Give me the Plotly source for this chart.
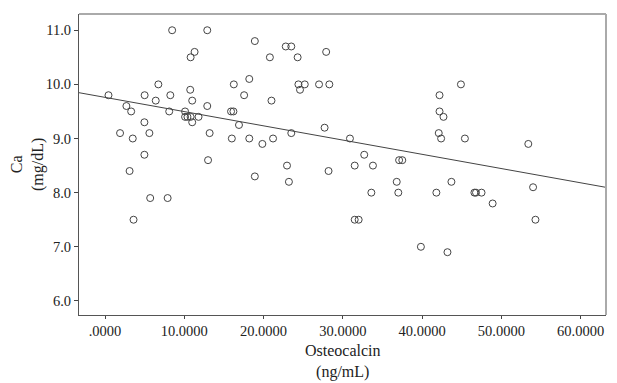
import plotly.graph_objects as go
import numpy as np

osteocalcin = [8.47, 12.9, 18.9, 11.3, 10.8, 6.73, 16.25, 18.2, 0.44, 5.0, 8.24, 10.75, 17.55,
               6.4, 11.0, 2.7, 3.3, 8.1, 10.1, 12.9, 15.9, 16.2, 10.1, 10.4, 10.8, 11.8, 11.0,
               4.97, 16.9, 1.9, 3.5, 5.6, 13.2, 16.0, 18.2, 4.97, 13.0, 3.1, 18.9, 5.7, 7.9, 3.6,
               22.8, 23.5, 20.8, 24.3, 27.9, 24.4, 25.2, 24.6, 27.0, 28.3, 21.0, 27.7, 23.5,
               19.85, 21.2, 30.9, 32.7, 37.1, 37.5, 22.96, 31.5, 33.8, 28.2, 23.2, 36.8, 33.6,
               37.0, 31.5, 32.0, 39.85, 44.9, 42.2, 42.2, 42.7, 42.1, 42.4, 45.4, 53.4, 43.7,
               41.8, 46.6, 46.8, 47.5, 48.9, 54.0, 54.3, 43.2]
ca = [11.0, 11.0, 10.8, 10.6, 10.5, 10.0, 10.0, 10.1, 9.8, 9.8, 9.8, 9.9, 9.8,
      9.7, 9.7, 9.6, 9.5, 9.5, 9.5, 9.6, 9.5, 9.5, 9.4, 9.4, 9.4, 9.4, 9.3,
      9.3, 9.25, 9.1, 9.0, 9.1, 9.1, 9.0, 9.0, 8.7, 8.6, 8.4, 8.3, 7.9, 7.9, 7.5,
      10.7, 10.7, 10.5, 10.5, 10.6, 10.0, 10.0, 9.9, 10.0, 10.0, 9.7, 9.2, 9.1,
      8.9, 9.0, 9.0, 8.7, 8.6, 8.6, 8.5, 8.5, 8.5, 8.4, 8.2, 8.2, 8.0,
      8.0, 7.5, 7.5, 7.0, 10.0, 9.8, 9.5, 9.4, 9.1, 9.0, 9.0, 8.9, 8.2,
      8.0, 8.0, 8.0, 8.0, 7.8, 8.1, 7.5, 6.9]

fit_intercept = 9.76
fit_slope = -0.0263

x_ticks = [0, 10, 20, 30, 40, 50, 60]
x_ticktext = [".0000", "10.0000", "20.0000", "30.0000", "40.0000", "50.0000", "60.0000"]
y_ticks = [6, 7, 8, 9, 10, 11]
y_ticktext = ["6.0", "7.0", "8.0", "9.0", "10.0", "11.0"]

x_range = [-3.28, 63.2]
y_range = [5.74, 11.30]

fig = go.Figure()
fig.add_trace(go.Scatter(
    x=osteocalcin, y=ca, mode="markers",
    marker=dict(symbol="circle-open", size=7, color="#444444", line=dict(width=1, color="#444444")),
    showlegend=False, cliponaxis=False))
lx = np.array(x_range)
fig.add_trace(go.Scatter(
    x=lx, y=fit_intercept + fit_slope * lx, mode="lines",
    line=dict(color="#444444", width=1), showlegend=False))

font = "Liberation Serif"
fig.update_layout(
    width=617, height=383,
    margin=dict(l=79, r=11, t=14, b=68),
    plot_bgcolor="white", paper_bgcolor="white",
    font=dict(family=font, color="#222222", size=14),
    xaxis=dict(range=x_range, tickvals=x_ticks, ticktext=x_ticktext, ticks="outside",
               ticklen=3, tickcolor="#444444", showgrid=False, zeroline=False,
               showline=True, linecolor="#555555", linewidth=1, mirror=False,
               tickfont=dict(size=14.5, family=font), automargin=False),
    yaxis=dict(range=y_range, tickvals=y_ticks, ticktext=y_ticktext, ticks="outside",
               ticklen=4, tickcolor="#444444", showgrid=False, zeroline=False,
               showline=True, linecolor="#555555", linewidth=1, mirror=False,
               tickfont=dict(size=14.5, family=font), automargin=False),
    annotations=[
        dict(text="Osteocalcin<br>(ng/mL)", xref="paper", yref="paper", x=0.5, y=-0.083,
             xanchor="center", yanchor="top", showarrow=False,
             font=dict(size=16, family=font, color="#222222")),
        dict(text="Ca<br>(mg/dL)", xref="paper", yref="paper", x=-0.057, y=0.5,
             xanchor="right", yanchor="middle", textangle=-90, showarrow=False,
             font=dict(size=16, family=font, color="#222222")),
    ],
    shapes=[
        dict(type="line", xref="paper", yref="paper", x0=0, x1=1, y0=1, y1=1,
             line=dict(color="#aaaaaa", width=2)),
        dict(type="line", xref="paper", yref="paper", x0=1, x1=1, y0=0, y1=1,
             line=dict(color="#aaaaaa", width=2)),
    ],
)
fig.write_html("out.html", config={"displayModeBar": False},
               post_script="document.body.style.margin='0';")
